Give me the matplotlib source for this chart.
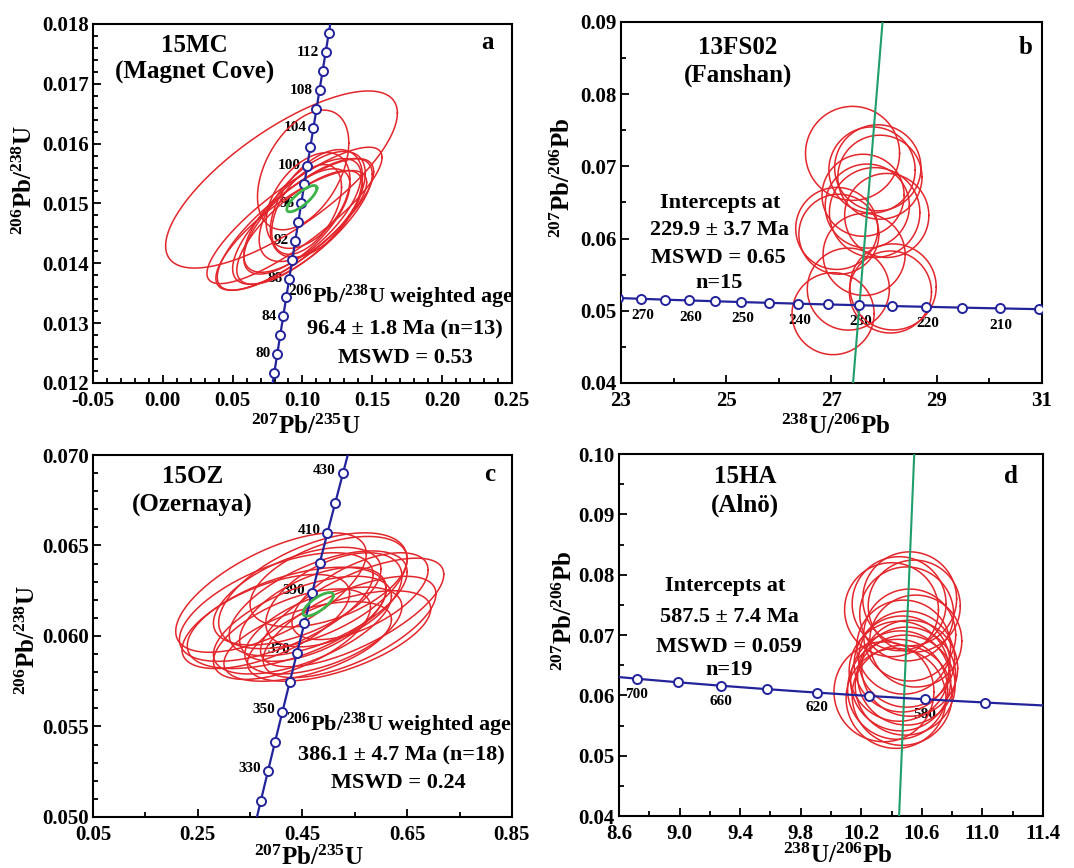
import numpy as np
import matplotlib
matplotlib.use('Agg')
import matplotlib.pyplot as plt

plt.rcParams['font.family'] = ['Liberation Serif', 'DejaVu Serif']
plt.rcParams['font.weight'] = 'bold'
plt.rcParams['mathtext.fontset'] = 'custom'
plt.rcParams['mathtext.rm'] = 'Liberation Serif:bold'
plt.rcParams['mathtext.bf'] = 'Liberation Serif:bold'
plt.rcParams['mathtext.it'] = 'Liberation Serif:bold'
plt.rcParams['mathtext.default'] = 'bf'
plt.rcParams['axes.unicode_minus'] = False

# decay constants (per Ma) and 238U/235U
L238 = 1.55125e-4
L235 = 9.8485e-4
U_RATIO = 137.88

# --- a: 15MC (Magnet Cove), Wetherill concordia ---
mc_x = [0.085, 0.1005, 0.0943, 0.095, 0.100, 0.092, 0.107, 0.104, 0.100, 0.110, 0.098, 0.103, 0.096]
mc_y = [0.01540, 0.01556, 0.01480, 0.01465, 0.01470, 0.01455, 0.01495, 0.01505, 0.01480, 0.01500, 0.01460, 0.01490, 0.01470]
mc_sx = [0.083, 0.0327, 0.0627, 0.056, 0.050, 0.054, 0.038, 0.030, 0.042, 0.033, 0.045, 0.025, 0.038]
mc_sy = [0.00148, 0.00100, 0.00114, 0.00110, 0.00105, 0.00100, 0.00092, 0.00080, 0.00095, 0.00090, 0.00095, 0.00075, 0.00088]
mc_rho = [0.75, 0.45, 0.85, 0.80, 0.75, 0.80, 0.60, 0.45, 0.70, 0.50, 0.75, 0.50, 0.70]
mc_mean = [0.0996, 0.01508, 0.0108, 0.00022, 0.8]   # x, y, sx, sy, rho
mc_marks = list(range(78, 118, 2))
mc_labels = [80, 84, 88, 92, 96, 100, 104, 108, 112]

# --- b: 13FS02 (Fanshan), Tera-Wasserburg ---
fs_x = [27.40, 27.77, 27.88, 27.92, 27.60, 27.68, 27.82, 28.05, 27.10, 27.14, 27.62, 27.32, 27.03, 28.17, 28.12]
fs_y = [0.0718, 0.0695, 0.0698, 0.0685, 0.0660, 0.0645, 0.0636, 0.0632, 0.0614, 0.0606, 0.0578, 0.0530, 0.0496, 0.0533, 0.0526]
fs_sx = [0.894, 0.82, 0.82, 0.80, 0.78, 0.80, 0.86, 0.80, 0.78, 0.76, 0.78, 0.78, 0.78, 0.82, 0.78]
fs_sy = [0.00651, 0.00596, 0.00596, 0.00582, 0.00568, 0.00582, 0.00623, 0.00582, 0.00568, 0.00554, 0.00568, 0.00568, 0.00568, 0.00596, 0.00568]
fs_line_x = [27.41, 27.97]
fs_line_y = [0.04, 0.09]
fs_marks = list(range(205, 280, 5))
fs_labels = [210, 220, 230, 240, 250, 260, 270]

# --- c: 15OZ (Ozernaya), Wetherill concordia ---
oz_x = [0.390, 0.400, 0.420, 0.545, 0.540, 0.520, 0.470, 0.480, 0.450, 0.500, 0.440, 0.490, 0.470, 0.510, 0.430, 0.560, 0.380, 0.460]
oz_y = [0.0624, 0.0616, 0.0610, 0.0613, 0.0605, 0.0600, 0.0625, 0.0618, 0.0606, 0.0630, 0.0622, 0.0603, 0.0612, 0.0620, 0.0601, 0.0622, 0.0608, 0.0597]
oz_sx = [0.182, 0.185, 0.190, 0.175, 0.165, 0.175, 0.180, 0.170, 0.170, 0.150, 0.160, 0.150, 0.140, 0.130, 0.150, 0.130, 0.160, 0.160]
oz_sy = [0.0033, 0.0030, 0.0028, 0.0030, 0.0028, 0.0025, 0.0032, 0.0029, 0.0027, 0.0025, 0.0027, 0.0024, 0.0026, 0.0026, 0.0025, 0.0024, 0.0026, 0.0022]
oz_rho = [0.65, 0.60, 0.55, 0.70, 0.65, 0.60, 0.55, 0.60, 0.60, 0.50, 0.55, 0.55, 0.55, 0.50, 0.60, 0.60, 0.60, 0.55]
oz_mean = [0.480, 0.06175, 0.029, 0.00065, 0.75]
oz_marks = list(range(320, 450, 10))
oz_labels = [330, 350, 370, 390, 410, 430]

# --- d: 15HA (Alno), Tera-Wasserburg ---
ha_x = [10.52, 10.45, 10.40, 10.55, 10.50, 10.52, 10.56, 10.48, 10.50, 10.47, 10.52, 10.45, 10.50, 10.46, 10.49, 10.44, 10.47, 10.43, 10.35]
ha_y = [0.0760, 0.0752, 0.0742, 0.0748, 0.0735, 0.0700, 0.0690, 0.0680, 0.0660, 0.0652, 0.0645, 0.0640, 0.0632, 0.0624, 0.0617, 0.0610, 0.0600, 0.0595, 0.0606]
ha_sx = [0.310, 0.310, 0.310, 0.304, 0.310, 0.304, 0.304, 0.310, 0.317, 0.317, 0.317, 0.330, 0.324, 0.330, 0.330, 0.330, 0.330, 0.330, 0.330]
ha_sy = [0.00779, 0.00779, 0.00779, 0.00762, 0.00779, 0.00762, 0.00762, 0.00779, 0.00796, 0.00796, 0.00796, 0.00829, 0.00812, 0.00829, 0.00829, 0.00829, 0.00829, 0.00829, 0.00829]
ha_line_x = [10.45, 10.55]
ha_line_y = [0.04, 0.10]
ha_marks = list(range(560, 720, 20))
ha_labels = [580, 620, 660, 700]

RED = '#e3262b'
BLUE = '#23239b'
LGREEN = '#3db449'
TEAL = '#1f9e6c'


def wetherill(t):
    t = np.asarray(t, float)
    return np.exp(L235 * t) - 1, np.exp(L238 * t) - 1


def tera_w(t):
    x235, y238 = wetherill(t)
    return 1 / y238, x235 / y238 / U_RATIO


def draw_ellipses(ax, cx, cy, sx, sy, rho, color, lw, z=2):
    th = np.linspace(0, 2 * np.pi, 241)
    for x0, y0, a, b, r in zip(cx, cy, sx, sy, rho):
        xs = x0 + a * np.cos(th)
        ys = y0 + b * (r * np.cos(th) + np.sqrt(1 - r * r) * np.sin(th))
        ax.plot(xs, ys, color=color, lw=lw, zorder=z)


def concordia(ax, func, trange, marks, labels, offset, ha, va):
    cx, cy = func(np.linspace(trange[0], trange[1], 300))
    ax.plot(cx, cy, color=BLUE, lw=1.6, zorder=3)
    mx, my = func(marks)
    ax.plot(mx, my, 'o', ms=6.5, mfc='white', mec=BLUE, mew=1.4, zorder=4)
    lx, ly = func(labels)
    for t, x, y in zip(labels, lx, ly):
        ax.annotate(str(t), (x, y), xytext=offset, textcoords='offset points',
                    ha=ha, va=va, fontsize=11, fontweight='bold', zorder=1)


def style(ax, xlim, ylim, xmaj, xmin, ymaj, ymin, xfmt, yfmt):
    ax.set_xlim(xlim)
    ax.set_ylim(ylim)
    ax.set_xticks(xmaj)
    ax.set_xticks(xmin, minor=True)
    ax.set_yticks(ymaj)
    ax.set_yticks(ymin, minor=True)
    ax.set_xticklabels([xfmt % v for v in xmaj])
    ax.set_yticklabels([yfmt % v for v in ymaj])
    ax.tick_params(which='both', direction='in', top=False, right=False,
                   width=1.3, labelsize=15)
    ax.tick_params(axis='x', pad=5.5)
    ax.tick_params(axis='y', pad=3)
    ax.tick_params(which='major', length=5.5)
    ax.tick_params(which='minor', length=3.5)
    for s in ax.spines.values():
        s.set_linewidth(1.5)


def txt(ax, x, y, s, size=16, **kw):
    ax.text(x, y, s, transform=ax.transAxes, ha='center', va='center',
            fontsize=size, fontweight='bold', **kw)


fig = plt.figure(figsize=(10.74, 8.68), dpi=100)
ax_a = fig.add_axes([0.0866, 0.5588, 0.3900, 0.4136])
ax_b = fig.add_axes([0.5782, 0.5588, 0.3920, 0.4159])
ax_c = fig.add_axes([0.0866, 0.0588, 0.3900, 0.4170])
ax_d = fig.add_axes([0.5763, 0.0599, 0.3948, 0.4170])

# panel a
draw_ellipses(ax_a, mc_x, mc_y, mc_sx, mc_sy, mc_rho, RED, 1.1)
draw_ellipses(ax_a, *[[v] for v in mc_mean], LGREEN, 2.0, z=5)
concordia(ax_a, wetherill, (70, 125), mc_marks, mc_labels, (-5, 0), 'right', 'center')
style(ax_a, (-0.05, 0.25), (0.012, 0.018),
      np.round(np.arange(-0.05, 0.2501, 0.05), 3), np.round(np.arange(-0.05, 0.2501, 0.01), 3),
      np.round(np.arange(0.012, 0.01801, 0.001), 4), np.round(np.arange(0.012, 0.01801, 0.0002), 5),
      '%.2f', '%.3f')
txt(ax_a, 0.243, 0.94, '15MC', 18)
txt(ax_a, 0.243, 0.865, '(Magnet Cove)', 18)
txt(ax_a, 0.943, 0.947, 'a', 18)
txt(ax_a, 0.735, 0.24, '$^{206}$Pb/$^{238}$U weighted age')
txt(ax_a, 0.745, 0.148, '96.4 ± 1.8 Ma (n=13)')
txt(ax_a, 0.745, 0.07, 'MSWD = 0.53')
txt(ax_a, 0.508, -0.123, '$^{207}$Pb/$^{235}$U', 18)
txt(ax_a, -0.162, 0.565, '$^{206}$Pb/$^{238}$U', 18, rotation=90)

# panel b
draw_ellipses(ax_b, fs_x, fs_y, fs_sx, fs_sy, [0] * len(fs_x), RED, 1.1)
ax_b.plot(fs_line_x, fs_line_y, color=TEAL, lw=1.5, zorder=3)
concordia(ax_b, tera_w, (195, 285), fs_marks, fs_labels, (1, -12), 'center', 'center')
style(ax_b, (23, 31), (0.04, 0.09),
      [23, 25, 27, 29, 31], [24, 26, 28, 30],
      np.round(np.arange(0.04, 0.0901, 0.01), 3), np.round(np.arange(0.045, 0.09, 0.01), 3),
      '%d', '%.2f')
txt(ax_b, 0.278, 0.93, '13FS02', 18)
txt(ax_b, 0.278, 0.853, '(Fanshan)', 18)
txt(ax_b, 0.96, 0.93, 'b', 18)
txt(ax_b, 0.235, 0.499, 'Intercepts at')
txt(ax_b, 0.235, 0.424, '229.9 ± 3.7 Ma')
txt(ax_b, 0.232, 0.346, 'MSWD = 0.65')
txt(ax_b, 0.232, 0.277, 'n=15')
txt(ax_b, 0.51, -0.121, '$^{238}$U/$^{206}$Pb', 18)
txt(ax_b, -0.138, 0.569, '$^{207}$Pb/$^{206}$Pb', 18, rotation=90)

# panel c
draw_ellipses(ax_c, oz_x, oz_y, oz_sx, oz_sy, oz_rho, RED, 1.1)
draw_ellipses(ax_c, *[[v] for v in oz_mean], LGREEN, 2.0, z=5)
concordia(ax_c, wetherill, (300, 460), oz_marks, oz_labels, (-5, 2), 'right', 'center')
style(ax_c, (0.05, 0.85), (0.050, 0.070),
      np.round(np.arange(0.05, 0.8501, 0.2), 2), np.round(np.arange(0.15, 0.85, 0.2), 2),
      np.round(np.arange(0.050, 0.07001, 0.005), 3), np.round(np.arange(0.050, 0.07001, 0.001), 3),
      '%.2f', '%.3f')
txt(ax_c, 0.238, 0.94, '15OZ', 18)
txt(ax_c, 0.238, 0.862, '(Ozernaya)', 18)
txt(ax_c, 0.948, 0.945, 'c', 18)
txt(ax_c, 0.73, 0.254, '$^{206}$Pb/$^{238}$U weighted age')
txt(ax_c, 0.737, 0.171, '386.1 ± 4.7 Ma (n=18)')
txt(ax_c, 0.73, 0.093, 'MSWD = 0.24')
txt(ax_c, 0.515, -0.113, '$^{207}$Pb/$^{235}$U', 18)
txt(ax_c, -0.155, 0.489, '$^{206}$Pb/$^{238}$U', 18, rotation=90)

# panel d
draw_ellipses(ax_d, ha_x, ha_y, ha_sx, ha_sy, [0] * len(ha_x), RED, 1.1)
ax_d.plot(ha_line_x, ha_line_y, color=TEAL, lw=1.5, zorder=3)
concordia(ax_d, tera_w, (530, 730), ha_marks, ha_labels, (0, -11), 'center', 'center')
style(ax_d, (8.6, 11.4), (0.04, 0.10),
      np.round(np.arange(8.6, 11.401, 0.4), 1), np.round(np.arange(8.8, 11.4, 0.4), 1),
      np.round(np.arange(0.04, 0.1001, 0.01), 2), np.round(np.arange(0.045, 0.1, 0.01), 3),
      '%.1f', '%.2f')
txt(ax_d, 0.297, 0.937, '15HA', 18)
txt(ax_d, 0.297, 0.859, '(Alnö)', 18)
txt(ax_d, 0.925, 0.937, 'd', 18)
txt(ax_d, 0.25, 0.635, 'Intercepts at')
txt(ax_d, 0.26, 0.551, '587.5 ± 7.4 Ma')
txt(ax_d, 0.26, 0.468, 'MSWD = 0.059')
txt(ax_d, 0.26, 0.403, 'n=19')
txt(ax_d, 0.515, -0.111, '$^{238}$U/$^{206}$Pb', 18)
txt(ax_d, -0.127, 0.566, '$^{207}$Pb/$^{206}$Pb', 18, rotation=90)

fig.savefig('out.png', dpi=100)
